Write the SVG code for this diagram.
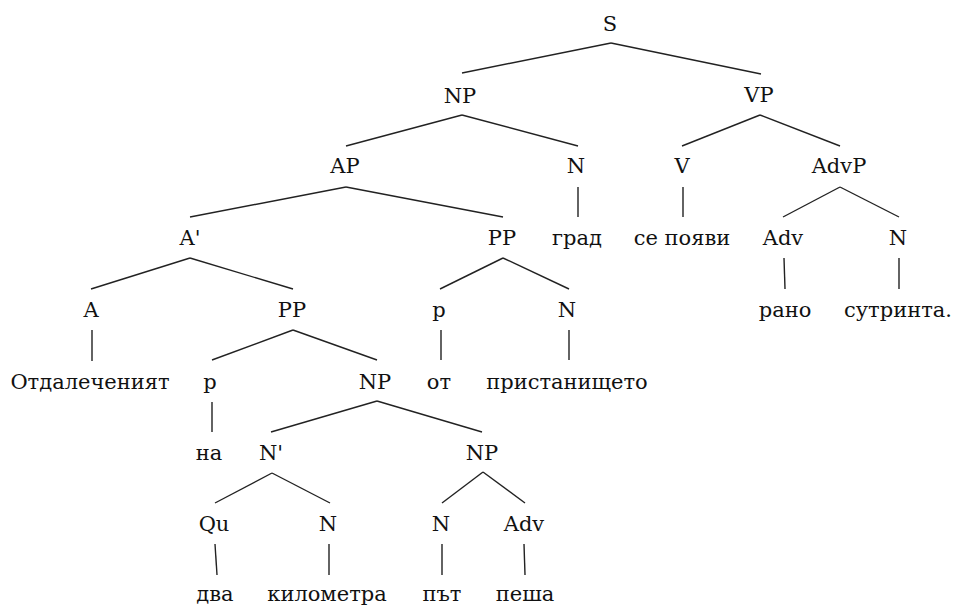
<svg xmlns="http://www.w3.org/2000/svg" width="954" height="607" viewBox="0 0 954 607">
<style>
text{font-family:"DejaVu Serif","Liberation Serif",serif;font-size:21px;fill:#111;text-anchor:middle}
.c line{stroke:#222;stroke-width:1.4;fill:none}
</style>
<rect width="954" height="607" fill="#fff"/>
<g class="c" id="connectors">
<line x1="611" y1="43" x2="462" y2="73"/>
<line x1="611" y1="43" x2="761" y2="74"/>
<line x1="462" y1="115" x2="346" y2="146"/>
<line x1="462" y1="115" x2="578" y2="146"/>
<line x1="760" y1="115" x2="682" y2="146"/>
<line x1="760" y1="115" x2="840" y2="146"/>
<line x1="346" y1="187" x2="190" y2="217"/>
<line x1="346" y1="187" x2="503" y2="217"/>
<line x1="578" y1="187" x2="578" y2="217"/>
<line x1="683" y1="187" x2="683" y2="217"/>
<line x1="840" y1="187" x2="783" y2="217"/>
<line x1="840" y1="187" x2="899" y2="217"/>
<line x1="190" y1="258" x2="91" y2="289"/>
<line x1="190" y1="258" x2="293" y2="289"/>
<line x1="503" y1="258" x2="440" y2="289"/>
<line x1="503" y1="258" x2="569" y2="289"/>
<line x1="784" y1="258" x2="785" y2="289"/>
<line x1="899" y1="258" x2="899" y2="289"/>
<line x1="92" y1="330" x2="92" y2="361"/>
<line x1="293" y1="330" x2="212" y2="360"/>
<line x1="293" y1="330" x2="377" y2="360"/>
<line x1="441" y1="330" x2="441" y2="360"/>
<line x1="569" y1="330" x2="569" y2="360"/>
<line x1="377" y1="401" x2="271" y2="432"/>
<line x1="377" y1="401" x2="482" y2="432"/>
<line x1="212" y1="402" x2="212" y2="432"/>
<line x1="272" y1="473" x2="215" y2="503"/>
<line x1="272" y1="473" x2="330" y2="503"/>
<line x1="483" y1="472" x2="442" y2="503"/>
<line x1="483" y1="472" x2="525" y2="503"/>
<line x1="215" y1="544" x2="217" y2="575"/>
<line x1="329" y1="544" x2="329" y2="575"/>
<line x1="442" y1="544" x2="442" y2="575"/>
<line x1="524" y1="544" x2="525" y2="575"/>
</g>
<g id="n-S"><text x="610" y="31">S</text></g>
<g id="n-NP1"><text x="460" y="103">NP</text></g>
<g id="n-VP"><text x="759" y="102">VP</text></g>
<g id="n-AP"><text x="345" y="173">AP</text></g>
<g id="n-N1"><text x="576" y="173">N</text></g>
<g id="n-V"><text x="682" y="173">V</text></g>
<g id="n-AdvP"><text x="839" y="173">AdvP</text></g>
<g id="n-A1"><text x="190" y="245">A'</text></g>
<g id="n-PP1"><text x="502" y="245">PP</text></g>
<g id="w-grad"><text x="577" y="245">град</text></g>
<g id="w-se"><text x="682" y="245">се появи</text></g>
<g id="n-Adv1"><text x="783" y="245">Adv</text></g>
<g id="n-N2"><text x="898" y="245">N</text></g>
<g id="n-A"><text x="91" y="317">A</text></g>
<g id="n-PP2"><text x="292" y="317">PP</text></g>
<g id="n-p1"><text x="439" y="317">p</text></g>
<g id="n-N3"><text x="567" y="317">N</text></g>
<g id="w-rano"><text x="785" y="317">рано</text></g>
<g id="w-sutr"><text x="898" y="317">сутринта.</text></g>
<g id="w-otd"><text x="90" y="389">Отдалеченият</text></g>
<g id="n-p2"><text x="210" y="389">p</text></g>
<g id="n-NP2"><text x="375" y="389">NP</text></g>
<g id="w-ot"><text x="439" y="389">от</text></g>
<g id="w-prist"><text x="567" y="389">пристанището</text></g>
<g id="w-na"><text x="209" y="460">на</text></g>
<g id="n-N1p"><text x="271" y="460">N'</text></g>
<g id="n-NP3"><text x="482" y="460">NP</text></g>
<g id="n-Qu"><text x="214" y="531">Qu</text></g>
<g id="n-N4"><text x="328" y="531">N</text></g>
<g id="n-N5"><text x="441" y="531">N</text></g>
<g id="n-Adv2"><text x="524" y="531">Adv</text></g>
<g id="w-dva"><text x="215" y="601">два</text></g>
<g id="w-km"><text x="327" y="601">километра</text></g>
<g id="w-pat"><text x="442" y="601">път</text></g>
<g id="w-pesha"><text x="525" y="601">пеша</text></g>
</svg>
